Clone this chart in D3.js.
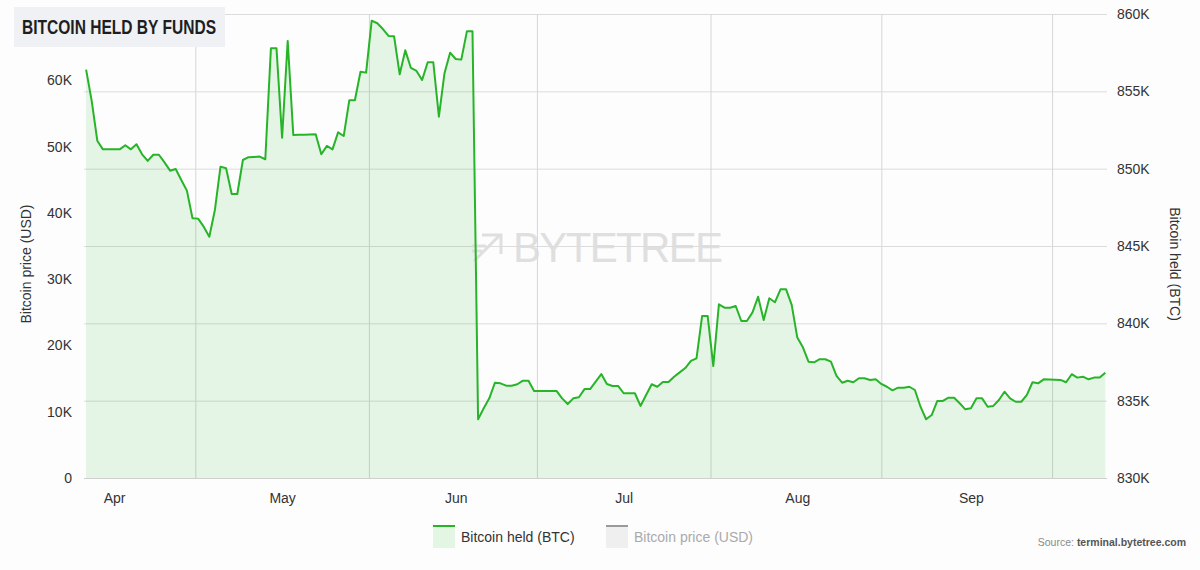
<!DOCTYPE html>
<html>
<head>
<meta charset="utf-8">
<script src="https://cdn.jsdelivr.net/npm/d3@7"></script>
<style>
  html, body { margin: 0; padding: 0; background: #fdfdfe; }
  svg { display: block; }
  text { font-family: "Liberation Sans", Arial, Helvetica, sans-serif; }
</style>
</head>
<body>
<svg id="chart" width="1200" height="570"></svg>
<script>
// ---------- DATA ----------
const startDate = "2021-03-27";
const endDate = "2021-09-25";
// Bitcoin held by funds (BTC), one value per day from startDate
const btcHeld = [
  856400, 854380, 851810, 851250, 851250, 851250, 851250, 851510, 851250, 851580,
  850930, 850500, 850900, 850900, 850410, 849870, 849980, 849270, 848580, 846790,
  846770, 846250, 845600, 847330, 850130, 850030, 848360, 848360, 850560, 850740,
  850760, 850780, 850610, 857780, 857780, 852000, 858260, 852180, 852190, 852200,
  852210, 852220, 850930, 851470, 851250, 852350, 852110, 854420, 854420, 856270,
  856210, 859570, 859400, 859030, 858580, 858560, 856100, 857650, 856510, 856320,
  855730, 856880, 856880, 853360, 856170, 857500, 857090, 857050, 858880, 858880,
  833800, 834510, 835150, 836160, 836120, 835970, 835970, 836060, 836290, 836290,
  835630, 835630, 835630, 835630, 835630, 835150, 834780, 835150, 835220, 835750,
  835750, 836230, 836720, 836080, 835950, 835950, 835480, 835480, 835480, 834660,
  835370, 836060, 835900, 836210, 836210, 836550, 836830, 837110, 837570, 837740,
  840470, 840470, 837240, 841230, 841010, 841010, 841120, 840150, 840150, 840710,
  841720, 840220, 841620, 841360, 842200, 842200, 841190, 839080, 838450, 837520,
  837480, 837680, 837680, 837520, 836600, 836160, 836290, 836190, 836450, 836450,
  836340, 836380, 836080, 835900, 835670, 835840, 835840, 835900, 835690, 834610,
  833800, 834070, 834980, 834980, 835190, 835190, 834830, 834440, 834510, 835150,
  835150, 834610, 834660, 835040, 835580, 835150, 834930, 834930, 835370, 836190,
  836120, 836380, 836370, 836360, 836340, 836190, 836710, 836490, 836550, 836380,
  836490, 836490, 836810
];
const priceTicks = [0, 10000, 20000, 30000, 40000, 50000, 60000];
const priceDomain = [0, 70000];
const heldTicks = [830000, 835000, 840000, 845000, 850000, 855000, 860000];
const heldDomain = [830000, 860000];
const monthTicks = ["2021-04-01", "2021-05-01", "2021-06-01", "2021-07-01", "2021-08-01", "2021-09-01"];
const gridTicks = ["2021-04-15T12:00Z", "2021-05-16T12:00Z", "2021-06-15T12:00Z", "2021-07-16T12:00Z", "2021-08-16T00:00Z", "2021-09-15T12:00Z"];
const title = "BITCOIN HELD BY FUNDS";
const seriesNames = ["Bitcoin held (BTC)", "Bitcoin price (USD)"];

// ---------- LAYOUT ----------
const svg = d3.select("#chart");
const plot = { left: 86.1, right: 1105.3, top: 14, bottom: 478 };
const gridLeft = 84, gridRight = 1107;

const parse = d3.utcParse("%Y-%m-%d");
const start = parse(startDate);
const dates = btcHeld.map((_, i) => d3.utcDay.offset(start, i));
const data = dates.map((d, i) => ({ date: d, value: btcHeld[i] }));

const x = d3.scaleUtc().domain([start, parse(endDate)]).range([plot.left, plot.right]);
const yHeld = d3.scaleLinear().domain(heldDomain).range([plot.bottom, plot.top]);
const yPrice = d3.scaleLinear().domain(priceDomain).range([plot.bottom, plot.top]);

// ---------- GRID ----------
const hGrid = svg.append("g").attr("transform", `translate(${gridLeft},0)`)
  .call(d3.axisRight(yHeld).tickValues(heldTicks).tickSize(gridRight - gridLeft).tickFormat(""));
hGrid.select(".domain").remove();
hGrid.selectAll("line").attr("stroke", "#dcdcdc").attr("stroke-width", 1);

const vGrid = svg.append("g").attr("transform", `translate(0,${plot.bottom})`)
  .call(d3.axisTop(x).tickValues(gridTicks.map(s => new Date(s))).tickSize(plot.bottom - plot.top).tickFormat(""));
vGrid.select(".domain").remove();
vGrid.selectAll("line").attr("stroke", "#d6d6d6").attr("stroke-width", 1);

// ---------- AREA + LINE ----------
const area = d3.area().x(d => x(d.date)).y0(yHeld(heldDomain[0])).y1(d => yHeld(d.value));
const line = d3.line().x(d => x(d.date)).y(d => yHeld(d.value));

svg.append("path").datum(data).attr("d", area).attr("fill", "#2fb82f").attr("fill-opacity", 0.12);

// watermark
const wm = svg.append("g").attr("opacity", 0.9);
wm.append("path")
  .attr("d", "M474,261 L500,235 M482,235 H501 V254 M472,246 H486 M472,251 H482")
  .attr("fill", "none").attr("stroke", "#dcdcdc").attr("stroke-width", 3);
wm.append("text").attr("x", 513).attr("y", 262)
  .attr("font-family", "Lato, 'Open Sans', sans-serif").attr("font-weight", 300)
  .attr("font-size", 42).attr("fill", "#dcdcdc")
  .attr("textLength", 210).attr("lengthAdjust", "spacing")
  .text("BYTETREE");

svg.append("path").datum(data).attr("d", line)
  .attr("fill", "none").attr("stroke", "#28b428").attr("stroke-width", 2).attr("stroke-linejoin", "round");

// baseline
svg.append("line").attr("x1", gridLeft).attr("x2", gridRight)
  .attr("y1", plot.bottom + 0.5).attr("y2", plot.bottom + 0.5).attr("stroke", "#cfcfcf");

// ---------- AXES ----------
const fmtK = d => d === 0 ? "0" : (d / 1000) + "K";
const leftAx = svg.append("g").attr("transform", `translate(${gridLeft},0)`)
  .call(d3.axisLeft(yPrice).tickValues(priceTicks).tickFormat(fmtK).tickSize(0).tickPadding(12));
leftAx.select(".domain").remove();
leftAx.selectAll("text").attr("font-size", 14).attr("fill", "#333").attr("font-family", "'Liberation Sans', Arial, sans-serif");

const rightAx = svg.append("g").attr("transform", `translate(${gridRight},0)`)
  .call(d3.axisRight(yHeld).tickValues(heldTicks).tickFormat(fmtK).tickSize(0).tickPadding(10));
rightAx.select(".domain").remove();
rightAx.selectAll("text").attr("font-size", 14).attr("fill", "#333").attr("font-family", "'Liberation Sans', Arial, sans-serif");

const bottomAx = svg.append("g").attr("transform", `translate(0,${plot.bottom})`)
  .call(d3.axisBottom(x).tickValues(monthTicks.map(parse)).tickFormat(d3.utcFormat("%b")).tickSize(0).tickPadding(15));
bottomAx.select(".domain").remove();
bottomAx.selectAll("text").attr("font-size", 14).attr("fill", "#333").attr("font-family", "'Liberation Sans', Arial, sans-serif");

// axis titles
svg.append("text").attr("transform", "translate(31,264) rotate(-90)")
  .attr("text-anchor", "middle").attr("font-size", 14).attr("fill", "#333").text("Bitcoin price (USD)");
svg.append("text").attr("transform", "translate(1170,264) rotate(90)")
  .attr("text-anchor", "middle").attr("font-size", 14).attr("fill", "#333").text("Bitcoin held (BTC)");

// ---------- TITLE ----------
svg.append("rect").attr("x", 14).attr("y", 7).attr("width", 211).attr("height", 40).attr("fill", "#eff1f5");
svg.append("text").attr("x", 22).attr("y", 34)
  .attr("font-family", "'Liberation Sans Narrow', 'DejaVu Sans Condensed', 'Roboto', sans-serif")
  .attr("font-weight", 700).attr("font-size", 21).attr("fill", "#1e1e1e")
  .attr("textLength", 194).attr("lengthAdjust", "spacingAndGlyphs")
  .text(title);

// ---------- LEGEND ----------
const legend = svg.append("g");
const items = [
  { name: seriesNames[0], x: 433, line: "#28b428", box: "#e3f5e3", text: "#333" },
  { name: seriesNames[1], x: 606, line: "#9a9a9a", box: "#efefef", text: "#aaa" }
];
items.forEach(it => {
  legend.append("rect").attr("x", it.x).attr("y", 526).attr("width", 22).attr("height", 22).attr("fill", it.box);
  legend.append("line").attr("x1", it.x).attr("x2", it.x + 22).attr("y1", 526).attr("y2", 526)
    .attr("stroke", it.line).attr("stroke-width", 2);
  legend.append("text").attr("x", it.x + 28).attr("y", 542).attr("font-size", 14).attr("fill", it.text).text(it.name);
});

// ---------- SOURCE ----------
const src = svg.append("text").attr("x", 1186).attr("y", 546).attr("text-anchor", "end").attr("font-size", 10.5);
src.append("tspan").attr("fill", "#8a8a8a").text("Source: ");
src.append("tspan").attr("fill", "#555").attr("font-weight", 700).text("terminal.bytetree.com");
</script>
</body>
</html>
